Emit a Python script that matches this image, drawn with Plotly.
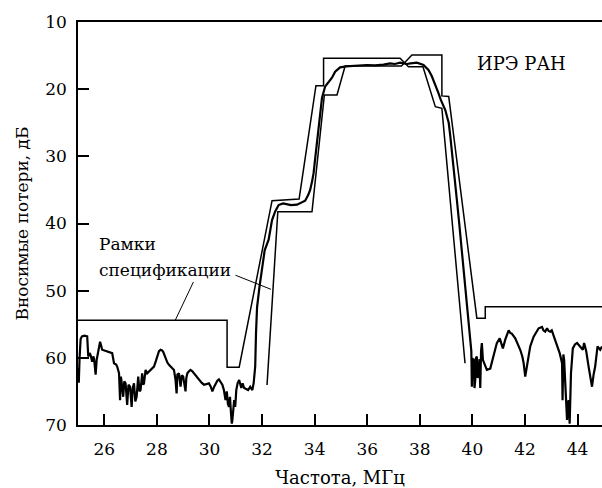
import plotly.graph_objects as go

# Measured response (frequency, MHz ; insertion loss, dB)
freq = [25.00, 25.03, 25.06, 25.10, 25.15, 25.25, 25.35, 25.39, 25.44, 25.48, 25.54, 25.58, 25.61, 25.67, 25.71,
        25.78, 25.84, 25.92, 26.00, 26.11, 26.20, 26.30, 26.37, 26.45, 26.49, 26.56, 26.60, 26.63, 26.65, 26.72,
        26.76, 26.81, 26.84, 26.87, 26.92, 26.98, 27.04, 27.08, 27.13, 27.18, 27.23, 27.29, 27.34, 27.38, 27.44,
        27.48, 27.51, 27.57, 27.63, 27.70, 27.80, 27.89, 27.96, 28.02, 28.08, 28.14, 28.20, 28.24, 28.33, 28.40,
        28.46, 28.55, 28.65, 28.71, 28.75, 28.78, 28.84, 28.90, 28.95, 29.00, 29.05, 29.09, 29.12, 29.16, 29.22,
        29.28, 29.35, 29.41, 29.50, 29.60, 29.70, 29.79, 29.88, 29.98, 30.05, 30.11, 30.18, 30.23, 30.30, 30.36,
        30.43, 30.49, 30.55, 30.61, 30.66, 30.70, 30.74, 30.78, 30.82, 30.85, 30.87, 30.91, 30.94, 30.98, 31.02,
        31.07, 31.13, 31.21, 31.26, 31.32, 31.40, 31.47, 31.55, 31.63, 31.68, 31.74, 31.77, 31.81, 31.90, 32.00,
        32.10, 32.25, 32.38, 32.50, 32.63, 32.80, 32.95, 33.10, 33.33, 33.50, 33.64, 33.75, 33.83, 33.90, 33.96,
        34.03, 34.09, 34.19, 34.28, 34.40, 34.55, 34.66, 34.78, 34.97, 35.20, 35.35, 35.70, 35.99, 36.30, 36.62,
        36.87, 37.05, 37.25, 37.40, 37.51, 37.65, 37.89, 38.14, 38.25, 38.33, 38.45, 38.52, 38.62, 38.71, 38.80,
        38.90, 38.97, 39.05, 39.10, 39.16, 39.22, 39.31, 39.41, 39.50, 39.60, 39.70, 39.79, 39.86, 39.92, 39.96,
        39.98, 40.00, 40.02, 40.05, 40.08, 40.11, 40.14, 40.17, 40.20, 40.24, 40.27, 40.30, 40.33, 40.36, 40.40,
        40.49, 40.55, 40.68, 40.81, 40.93, 41.04, 41.10, 41.16, 41.25, 41.38, 41.44, 41.50, 41.63, 41.72, 41.82,
        41.90, 41.95, 42.01, 42.06, 42.10, 42.20, 42.33, 42.45, 42.52, 42.65, 42.70, 42.77, 42.84, 42.90, 42.96,
        43.02, 43.08, 43.15, 43.25, 43.32, 43.38, 43.41, 43.43, 43.46, 43.49, 43.53, 43.57, 43.60, 43.63, 43.66,
        43.70, 43.73, 43.75, 43.82, 43.90, 43.98, 44.04, 44.10, 44.20, 44.25, 44.33, 44.42, 44.50, 44.55, 44.61,
        44.67, 44.76, 44.86, 44.93]
loss = [61.5, 63.7, 60.0, 57.2, 56.8, 56.7, 56.8, 59.8, 59.3, 59.6, 60.6, 59.8, 60.1, 62.5, 60.3,
        58.5, 57.6, 58.8, 58.9, 59.1, 59.2, 59.3, 60.8, 61.0, 61.3, 62.3, 66.3, 62.8, 63.3, 65.8,
        63.5, 63.8, 66.0, 67.0, 64.0, 64.3, 67.3, 64.5, 63.8, 66.5, 65.8, 62.8, 65.0, 64.8, 62.3,
        64.0, 63.8, 61.8, 62.3, 62.05, 61.7, 61.3, 60.5, 59.8, 59.0, 58.8, 58.9, 59.1, 60.1, 60.7,
        61.05, 61.4, 61.8, 63.3, 65.3, 62.5, 62.3, 64.3, 62.6, 62.8, 64.0, 65.0, 63.0, 62.3, 62.0,
        61.8, 62.0, 62.3, 62.8, 63.3, 63.7, 64.0, 63.9, 63.8, 64.3, 65.0, 64.3, 63.8, 63.4, 63.2,
        63.6, 64.0, 64.8, 66.3, 65.0, 66.8, 67.3, 65.8, 68.3, 69.8, 69.3, 67.8, 66.3, 67.3, 64.8,
        63.8, 63.3, 64.5, 63.8, 64.5, 64.6, 64.8, 64.3, 64.8, 63.8, 61.3, 56.4, 52.5, 49.5, 46.5,
        44.0, 42.4, 39.5, 38.2, 37.25, 37.0, 37.1, 37.25, 37.2, 36.9, 36.6, 35.8, 35.0, 33.8, 32.5,
        30.0, 28.0, 24.1, 21.3, 19.6, 18.9, 18.3, 17.4, 16.75, 16.6, 16.55, 16.45, 16.4, 16.45, 16.35,
        16.15, 16.25, 16.05, 16.2, 16.25, 16.15, 16.05, 16.4, 16.8, 17.15, 18.0, 18.65, 19.7, 20.6, 21.6,
        22.6, 23.1, 24.3, 25.0, 27.0, 29.1, 32.5, 36.5, 40.0, 43.9, 47.8, 51.4, 54.0, 56.5, 59.0,
        64.3, 60.0, 62.5, 60.1, 64.5, 63.3, 60.0, 59.8, 63.0, 62.3, 60.2, 64.5, 59.0, 57.8, 60.3,
        61.3, 61.8, 61.6, 59.8, 57.8, 57.1, 57.8, 58.6, 57.3, 55.9, 56.3, 56.4, 57.1, 57.8, 58.8,
        59.8, 60.8, 62.8, 61.5, 60.8, 58.3, 56.85, 56.0, 55.6, 55.4, 55.9, 56.1, 55.6, 56.0, 56.1,
        55.9, 56.6, 57.3, 58.3, 59.3, 60.3, 60.8, 66.3, 59.5, 60.3, 64.3, 66.0, 69.25, 67.0, 66.3,
        69.8, 65.0, 62.3, 58.6, 58.0, 57.8, 58.1, 58.3, 58.8, 57.8, 59.0, 61.3, 63.0, 64.3, 62.5,
        61.3, 58.3, 58.8, 58.3]

# Specification frame 1 (left outer -> right inner)
mask1_freq = [25.0, 30.67, 30.67, 31.13, 32.38, 33.41, 34.05, 34.34, 34.34, 37.25, 37.57, 38.12, 38.59, 38.84, 39.72]
mask1_loss = [54.4, 54.4, 61.4, 61.4, 36.6, 36.35, 19.48, 19.48, 15.4, 15.4, 16.65, 16.65, 22.61, 22.85, 60.81]
# Specification frame 2 (left inner -> right outer)
mask2_freq = [32.19, 32.60, 33.90, 34.37, 34.85, 35.16, 37.30, 37.70, 38.84, 38.84, 39.10, 40.17, 40.49, 40.49, 45.0]
mask2_loss = [64.04, 38.24, 38.24, 20.87, 20.87, 16.55, 16.55, 14.9, 14.9, 21.0, 21.1, 54.1, 54.1, 52.4, 52.4]

x_ticks = [26, 28, 30, 32, 34, 36, 38, 40, 42, 44]
y_ticks = [10, 20, 30, 40, 50, 60, 70]

FONT = "DejaVu Serif"

fig = go.Figure()
fig.add_trace(go.Scatter(x=mask1_freq, y=mask1_loss, mode="lines",
                         line=dict(color="black", width=1.5), showlegend=False))
fig.add_trace(go.Scatter(x=mask2_freq, y=mask2_loss, mode="lines",
                         line=dict(color="black", width=1.5), showlegend=False))
fig.add_trace(go.Scatter(x=freq, y=loss, mode="lines",
                         line=dict(color="black", width=2.2), showlegend=False))

# leader lines for the "Рамки спецификации" label
fig.add_shape(type="line", x0=29.39, y0=48.7, x1=28.70, y1=54.4,
              line=dict(color="black", width=1))
fig.add_shape(type="line", x0=30.99, y0=47.7, x1=32.34, y1=49.8,
              line=dict(color="black", width=1))

fig.add_annotation(x=0.036, y=0.45, xref="paper", yref="paper", text="Рамки", showarrow=False,
                   xanchor="left", yanchor="middle", font=dict(family=FONT, size=17, color="black"))
fig.add_annotation(x=0.036, y=0.385, xref="paper", yref="paper", text="спецификации", showarrow=False,
                   xanchor="left", yanchor="middle", font=dict(family=FONT, size=17, color="black"))
fig.add_annotation(x=0.847, y=0.898, xref="paper", yref="paper", text="ИРЭ РАН", showarrow=False,
                   xanchor="center", yanchor="middle", font=dict(family=FONT, size=18, color="black"))

fig.update_layout(
    width=602, height=488,
    margin=dict(l=78, r=0, t=22, b=63),
    paper_bgcolor="white", plot_bgcolor="white",
    font=dict(family=FONT, size=17, color="black"),
    xaxis=dict(range=[25, 44.93], tickvals=x_ticks, ticks="inside", ticklen=11, tickwidth=1.5,
               tickcolor="black", showline=True, linecolor="black", linewidth=1.5, mirror=True,
               showgrid=False, zeroline=False, ticklabelstandoff=8, automargin=False,
               tickfont=dict(family=FONT, size=17, color="black"),
               title=dict(text="Частота, МГц", font=dict(family=FONT, size=18, color="black"), standoff=14)),
    yaxis=dict(range=[70, 10], tickvals=y_ticks, ticks="inside", ticklen=11, tickwidth=1.5,
               tickcolor="black", showline=True, linecolor="black", linewidth=1.5,
               showgrid=False, zeroline=False, ticklabelstandoff=6, automargin=False,
               tickfont=dict(family=FONT, size=17, color="black"),
               title=dict(text="Вносимые потери, дБ", font=dict(family=FONT, size=17, color="black"), standoff=12)),
)

fig.write_html("out.html", config={"displayModeBar": False},
               post_script="document.body.style.margin='0';")
